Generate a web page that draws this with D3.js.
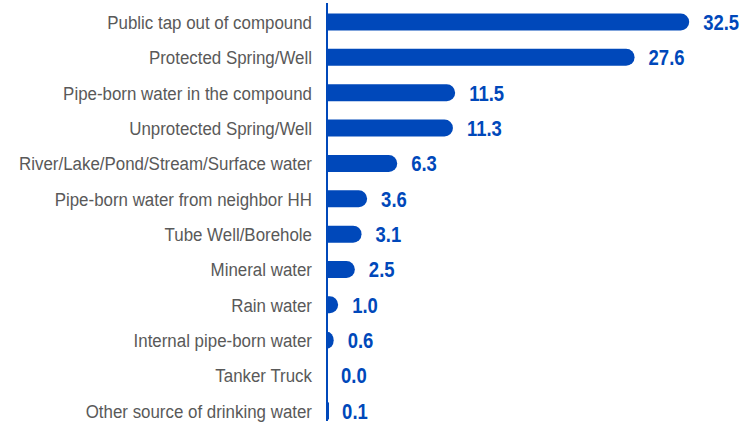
<!DOCTYPE html>
<html>
<head>
<meta charset="utf-8">
<script src="https://cdn.jsdelivr.net/npm/d3@7"></script>
<style>
  html, body { margin: 0; padding: 0; background: #ffffff; }
  svg { display: block; }
</style>
</head>
<body>
<svg id="chart" width="753" height="423"></svg>
<script>
// Main sources of drinking water (% of households)
const categories = [
  "Public tap out of compound",
  "Protected Spring/Well",
  "Pipe-born water in the compound",
  "Unprotected Spring/Well",
  "River/Lake/Pond/Stream/Surface water",
  "Pipe-born water from neighbor HH",
  "Tube Well/Borehole",
  "Mineral water",
  "Rain water",
  "Internal pipe-born water",
  "Tanker Truck",
  "Other source of drinking water"
];
const values = [32.5, 27.6, 11.5, 11.3, 6.3, 3.6, 3.1, 2.5, 1.0, 0.6, 0.0, 0.1];
const valueLabels = ["32.5", "27.6", "11.5", "11.3", "6.3", "3.6", "3.1", "2.5", "1.0", "0.6", "0.0", "0.1"];

const svg = d3.select("#chart");
const blue = "#0048BA";
const fontStack = "'Liberation Sans', Arial, sans-serif";
const axisTop = 3, axisBottom = 421;

const x = d3.scaleLinear().domain([0, 33.2]).range([327, 697]);
const y = d3.scaleBand()
  .domain(categories)
  .range([4.3, 428.6])
  .paddingInner(0.5)
  .paddingOuter(0.25);

const barH = 17;
const cy = d => y(d.c) + y.bandwidth() / 2;

// bar with a rounded right end
function barPath(v, c) {
  const x0 = x(0), w = x(v) - x(0);
  const top = c - barH / 2, bot = c + barH / 2;
  if (w <= 0) return null;
  const rx = Math.min(barH / 2, w), ry = barH / 2;
  const xs = x0 + w - rx;
  return `M${x0},${top}H${xs}A${rx},${ry} 0 0 1 ${xs},${bot}H${x0}Z`;
}

const rows = svg.append("g").selectAll("g")
  .data(categories.map((c, i) => ({ c, v: values[i], lab: valueLabels[i] })))
  .join("g");

rows.append("path")
  .attr("d", d => barPath(d.v, cy(d)))
  .attr("fill", blue);

// small stub for the near-zero bar
rows.filter(d => d.v > 0 && x(d.v) - x(0) < 2)
  .append("rect")
  .attr("x", x(0))
  .attr("y", d => cy(d) - barH / 2)
  .attr("width", 2)
  .attr("height", barH)
  .attr("fill", blue);

// category names, narrowed
rows.append("text")
  .attr("transform", d => `translate(312,${cy(d)}) scale(0.89,1)`)
  .attr("dy", "0.36em")
  .attr("text-anchor", "end")
  .attr("font-family", fontStack)
  .attr("font-size", 19)
  .attr("fill", "#595959")
  .text(d => d.c);

// value labels, narrowed bold
rows.append("text")
  .attr("transform", d => `translate(${x(d.v) + 14},${cy(d)}) scale(0.84,1)`)
  .attr("dy", "0.36em")
  .attr("font-family", fontStack)
  .attr("font-weight", "bold")
  .attr("font-size", 22)
  .attr("fill", blue)
  .text(d => d.lab);

// category axis line
svg.append("line")
  .attr("x1", x(0)).attr("x2", x(0))
  .attr("y1", axisTop).attr("y2", axisBottom)
  .attr("stroke", blue)
  .attr("stroke-width", 2);
</script>
</body>
</html>
